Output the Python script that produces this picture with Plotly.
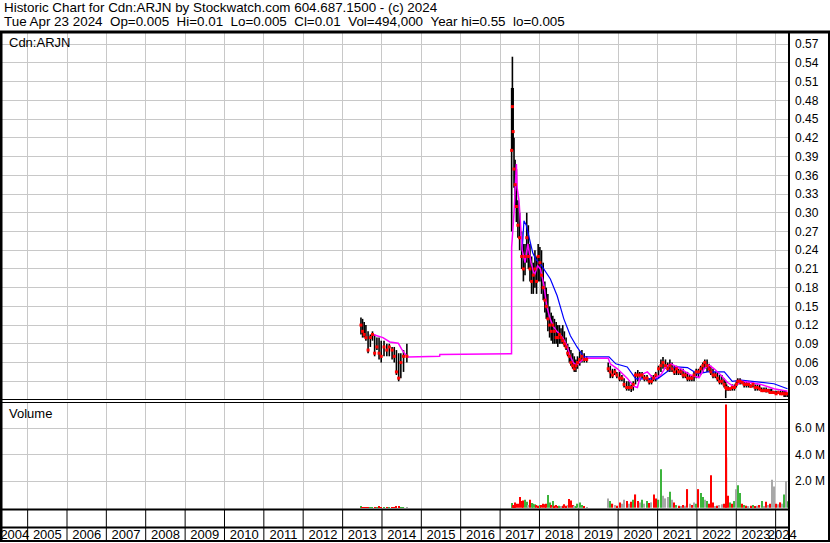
import pandas as pd
import plotly.graph_objects as go

# ---------------- data ----------------
# period 1 (2013-2014)
p1_dates = ["2013-06-20", "2013-07-05", "2013-07-20", "2013-08-05", "2013-08-25", "2013-09-15",
            "2013-10-05", "2013-10-25", "2013-11-15", "2013-12-05", "2013-12-25", "2014-01-20",
            "2014-02-15", "2014-03-10", "2014-04-05", "2014-04-25", "2014-05-15", "2014-06-05",
            "2014-06-25", "2014-07-20", "2014-08-20"]
p1_high = [.132, .130, .125, .120, .110, .105, .110, .105, .100, .100, .095, .095, .090, .090, .085,
           .085, .080, .075, .075, .080, .090]
p1_low = [.105, .100, .100, .095, .075, .085, .095, .070, .080, .065, .060, .070, .070, .070, .065,
          .060, .040, .030, .035, .045, .060]
p1_close = [.120, .110, .105, .100, .080, .100, .105, .075, .085, .075, .070, .085, .080, .085, .080,
            .070, .045, .035, .060, .070, .070]
p1_vol = [.06, .04, .05, .03, .04, .03, .05, .04, .03, .06, .04, .05, .03, .04, .03, .05, .06, .07,
          .05, .04, .03]
p1_move = "UDDDDUUDUDDUDUDDDDUUN"

# period 2 (2017-2019)
p2_dates = ["2017-04-18", "2017-04-25", "2017-05-02", "2017-05-10", "2017-05-20", "2017-06-01",
            "2017-06-15", "2017-07-01", "2017-07-20", "2017-08-05", "2017-08-20", "2017-09-05",
            "2017-09-20", "2017-10-05", "2017-10-20", "2017-11-05", "2017-11-20", "2017-12-05",
            "2017-12-20", "2018-01-05", "2018-01-20", "2018-02-05", "2018-02-20", "2018-03-05",
            "2018-03-20", "2018-04-05", "2018-04-20", "2018-05-05", "2018-05-20", "2018-06-05",
            "2018-06-20", "2018-07-05", "2018-07-20", "2018-08-05", "2018-08-20", "2018-09-05",
            "2018-09-20", "2018-10-05", "2018-10-20", "2018-11-05", "2018-11-20", "2018-12-05",
            "2018-12-20", "2019-01-10", "2019-01-30", "2019-02-20", "2019-03-15"]
p2_high = [.500, .550, .500, .420, .385, .370, .320, .300, .270, .250,
           .250, .300, .280, .250, .230, .220, .240, .230, .250, .245,
           .240, .220, .190, .180, .170, .150, .140, .135, .130, .125,
           .120, .120, .115, .120, .110, .100, .090, .085, .080, .075,
           .070, .065, .070, .078, .080, .075, .070]
p2_low = [.270, .400, .400, .340, .310, .285, .260, .240, .210, .190,
          .200, .220, .210, .190, .170, .170, .180, .170, .190, .190,
          .170, .160, .140, .130, .110, .100, .095, .090, .090, .090,
          .085, .090, .090, .090, .085, .080, .070, .060, .055, .050,
          .045, .045, .050, .055, .060, .060, .060]
p2_close = [.400, .470, .430, .370, .345, .310, .280, .260, .230, .210,
            .230, .260, .230, .210, .190, .200, .210, .190, .230, .220,
            .200, .180, .160, .150, .130, .120, .110, .120, .110, .100,
            .100, .105, .100, .095, .090, .085, .075, .070, .060, .055,
            .050, .055, .060, .065, .070, .065, .065]
p2_vol = [.35, .25, .20, .15, .40, .30, .30, .80, .50, .55,
          .60, .45, .20, .60, .35, .30, .25, .20, .15, .20,
          .20, .30, .25, .30, .95, .40, .20, .50, .15, .20,
          .10, .15, .10, .15, .25, .15, .20, .65, .55, .20,
          .15, .10, .30, .40, .20, .06, .05]
p2_move = "UUDDDDDDDDUUNDUUUDDUDDDDUUDUDDDUNDDDNDDDNUUUUDN"

# period 3 (2019-2024)
p3_dates = ["2019-10-01", "2019-10-20", "2019-11-10", "2019-12-01", "2019-12-20", "2020-01-15",
            "2020-02-05", "2020-02-25", "2020-03-20", "2020-04-10", "2020-05-01", "2020-05-20",
            "2020-06-10", "2020-07-01", "2020-07-20", "2020-08-10", "2020-09-01", "2020-09-25",
            "2020-10-15", "2020-11-05", "2020-11-25", "2020-12-15", "2021-01-10", "2021-02-01",
            "2021-02-20", "2021-03-15", "2021-04-05", "2021-04-25", "2021-05-15", "2021-06-05",
            "2021-06-25", "2021-07-15", "2021-08-05", "2021-08-25", "2021-09-15", "2021-10-05",
            "2021-10-25", "2021-11-15", "2021-12-05", "2021-12-25", "2022-01-15", "2022-02-05",
            "2022-02-25", "2022-03-15", "2022-04-05", "2022-04-25", "2022-05-10", "2022-05-30",
            "2022-06-20", "2022-07-10", "2022-07-30", "2022-08-20", "2022-09-10", "2022-09-25",
            "2022-10-03", "2022-10-18", "2022-11-05", "2022-11-25", "2022-12-15", "2023-01-01",
            "2023-01-15", "2023-02-05", "2023-02-25", "2023-03-15", "2023-04-05", "2023-04-25",
            "2023-05-15", "2023-06-05", "2023-06-25", "2023-07-15", "2023-08-05", "2023-08-25",
            "2023-09-15", "2023-10-05", "2023-10-25", "2023-11-10", "2023-11-25", "2023-12-15",
            "2024-01-05", "2024-01-25", "2024-02-15", "2024-03-05", "2024-03-20", "2024-04-05",
            "2024-04-23"]
p3_high = [.060, .055, .050, .050, .045, .045, .040, .035, .030, .030,
           .025, .030, .045, .048, .045, .045, .040, .040, .035, .040,
           .040, .045, .055, .065, .069, .065, .060, .065, .060, .055,
           .055, .050, .050, .050, .045, .045, .040, .040, .045, .050,
           .050, .055, .060, .065, .065, .058, .055, .050, .045, .045,
           .040, .040, .035, .030, .025, .022, .020, .025, .025, .030,
           .035, .035, .030, .030, .030, .030, .025, .028, .025, .025,
           .025, .020, .020, .020, .018, .018, .018, .015, .015, .015,
           .015, .015, .015, .015, .010]
p3_low = [.045, .035, .035, .040, .035, .030, .030, .020, .015, .015,
          .013, .015, .025, .030, .030, .035, .030, .030, .025, .025,
          .030, .030, .035, .045, .050, .050, .045, .045, .045, .040,
          .040, .040, .040, .035, .035, .030, .030, .030, .030, .035,
          .035, .040, .045, .050, .045, .045, .040, .035, .035, .030,
          .025, .025, .020, .003, .015, .015, .015, .015, .015, .020,
          .025, .025, .025, .020, .020, .020, .020, .020, .015, .015,
          .015, .015, .015, .012, .012, .010, .010, .010, .010, .010,
          .010, .008, .005, .005, .005]
p3_close = [.050, .045, .040, .045, .040, .035, .035, .025, .020, .020,
            .020, .025, .040, .040, .040, .040, .035, .035, .030, .030,
            .035, .040, .050, .055, .060, .055, .050, .055, .050, .045,
            .050, .045, .045, .040, .040, .035, .035, .035, .040, .045,
            .045, .050, .055, .060, .055, .050, .045, .040, .040, .035,
            .030, .030, .025, .020, .018, .018, .018, .020, .020, .025,
            .030, .030, .028, .025, .025, .025, .022, .025, .020, .020,
            .018, .015, .015, .015, .015, .012, .012, .012, .010, .012,
            .010, .010, .010, .010, .010]
p3_vol = [.70, .50, .30, .20, .15, .40, .30, .60, .50, .30,
          .45, .60, 1.00, .50, .40, .60, .30, .50, .35, .40,
          1.00, .70, .60, 2.90, .90, .70, .80, 1.20, .60, .40,
          .20, .15, .10, .20, .15, 1.40, .30, .20, .40, .30,
          1.40, 1.10, .80, .60, .50, .30, 2.45, .40, .10, .15,
          .20, .25, .30, 7.80, 3.80, .90, .40, .30, .50, 1.40,
          1.70, 1.10, .30, .20, .15, .10, .15, .20, .10, .15,
          .20, .50, .10, .45, .20, .30, 2.10, 1.60, .30, .25,
          .40, .30, 1.00, 2.00, .49]
p3_move = ("NUDNDDNNDN" "DUDDNUNUDN" "DDUUNNNUND" "UDNDNDNDNU" "DUUNUDDDND"
           "NNDDDDUDUN" "UUDUDNDUDN" "DUNDNDNNDN" "DNUNU")

# short moving average (magenta)
ma_short_dates = ["2013-10-10", "2014-01-10", "2014-03-15", "2014-06-01", "2014-07-01", "2014-08-01",
                  "2014-09-01", "2015-06-20", "2015-06-22", "2017-04-17", "2017-04-18", "2017-05-10",
                  "2017-06-01", "2017-06-08", "2017-06-25", "2017-07-05", "2017-07-25", "2017-08-20",
                  "2017-09-15", "2017-10-15", "2017-11-15", "2017-12-15", "2018-01-10", "2018-02-10",
                  "2018-03-10", "2018-04-10", "2018-05-10", "2018-06-10", "2018-07-10", "2018-08-10",
                  "2018-09-10", "2018-10-10", "2018-11-10", "2018-12-10", "2019-01-15", "2019-02-15",
                  "2019-03-20", "2019-10-01", "2019-10-20", "2019-12-25", "2020-03-25", "2020-05-25",
                  "2020-06-28", "2020-07-28", "2020-09-28", "2020-11-28", "2021-01-30", "2021-03-18",
                  "2021-05-05", "2021-08-05", "2021-11-03", "2022-01-22", "2022-03-08", "2022-04-22",
                  "2022-06-10", "2022-08-10", "2022-10-12", "2022-12-13", "2023-02-14", "2023-04-16",
                  "2023-08-18", "2023-12-16", "2024-04-20"]
ma_short = [.105, .100, .093, .091, .082, .074, .069, .070, .073, .074, .245, .300,
            .378, .340, .320, .295, .240, .220, .250, .220, .200, .215, .210, .185,
            .150, .130, .118, .110, .105, .098, .088, .072, .060, .056, .062, .066,
            .067, .067, .058, .050, .035, .022, .020, .040, .045, .034, .040, .053,
            .058, .050, .040, .036, .050, .056, .050, .040, .028, .021, .030, .029,
            .025, .018, .014]

# long moving average (blue)
ma_long_dates = ["2017-07-25", "2017-08-10", "2017-09-01", "2017-10-01", "2017-11-01", "2017-12-01",
                 "2018-01-10", "2018-04-12", "2018-06-14", "2018-08-15", "2018-10-15", "2018-12-15",
                 "2019-02-17", "2019-10-08", "2019-12-10", "2020-03-25", "2020-06-13", "2021-01-01",
                 "2021-05-05", "2021-07-01", "2021-10-05", "2022-01-05", "2022-04-10", "2022-09-12",
                 "2022-11-25", "2023-02-14", "2023-12-16", "2024-04-20"]
ma_long = [.240, .287, .280, .255, .235, .225, .218, .194, .167, .130, .103, .085,
           .069, .069, .058, .053, .034, .034, .050, .053, .052, .042, .045, .045,
           .030, .032, .026, .018]

price_ticks = [0.03, 0.06, 0.09, 0.12, 0.15, 0.18, 0.21, 0.24, 0.27, 0.30,
               0.33, 0.36, 0.39, 0.42, 0.45, 0.48, 0.51, 0.54, 0.57]
volume_ticks = [2.0, 4.0, 6.0]
years = list(range(2004, 2025))
x_start, x_end = "2004-05-08", "2024-05-04"

header_1 = "Historic Chart for Cdn:ARJN by Stockwatch.com 604.687.1500 - (c) 2024"
header_2 = ("Tue Apr 23 2024  Op=0.005  Hi=0.01  Lo=0.005  Cl=0.01  Vol=494,000  "
            "Year hi=0.55  lo=0.005")

# ---------------- build ----------------
dates = p1_dates + p2_dates + p3_dates
highs = p1_high + p2_high + p3_high
lows = p1_low + p2_low + p3_low
closes = p1_close + p2_close + p3_close
vols = p1_vol + p2_vol + p3_vol
moves = p1_move + p2_move + p3_move
assert len(dates) == len(highs) == len(lows) == len(closes) == len(vols) == len(moves)

FONT = "Liberation Sans, Arial, sans-serif"
GRID = "#c8c8c8"
move_color = {"U": "#3cb43c", "D": "#ff0000", "N": "#a8a8a8"}

W, H = 830, 543
ML, MR, MT, MB = 2, 41, 33, 34
PW, PH = W - ML - MR, H - MT - MB


def px(x):
    return (x - ML) / PW


def py(y):
    return (H - MB - y) / PH


fig = go.Figure()

bx, by = [], []
for d, hi, lo in zip(dates, highs, lows):
    bx += [d, d, None]
    by += [lo, hi, None]
fig.add_trace(go.Scatter(x=bx, y=by, mode="lines", line=dict(color="black", width=1.6),
                         xaxis="x", yaxis="y", hoverinfo="skip"))
fig.add_trace(go.Scatter(x=ma_long_dates, y=ma_long, mode="lines",
                         line=dict(color="#0000ff", width=1.2), xaxis="x", yaxis="y"))
fig.add_trace(go.Scatter(x=ma_short_dates, y=ma_short, mode="lines",
                         line=dict(color="#ff00ff", width=1.5), xaxis="x", yaxis="y"))
fig.add_trace(go.Scatter(x=dates, y=closes, mode="markers",
                         marker=dict(symbol="square", size=3, color="#ff0000", line=dict(width=0)),
                         xaxis="x", yaxis="y"))
fig.add_trace(go.Bar(x=dates, y=[v * 1e6 for v in vols],
                     marker=dict(color=[move_color[m] for m in moves], line=dict(width=0)),
                     width=11 * 86400000, xaxis="x2", yaxis="y2"))
# empty helper trace so that the year-label axis gets drawn
fig.add_trace(go.Scatter(x=[x_start, x_end], y=[None, None], mode="lines", xaxis="x3", yaxis="y2",
                         hoverinfo="skip"))

# year label positions: middle of each visible year cell
t0, t1 = pd.Timestamp(x_start), pd.Timestamp(x_end)
mids = []
for yr in years:
    a = max(pd.Timestamp(f"{yr}-01-01"), t0)
    b = min(pd.Timestamp(f"{yr + 1}-01-01"), t1)
    mids.append((a + (b - a) / 2).strftime("%Y-%m-%d %H:%M"))

common_x = dict(type="date", range=[x_start, x_end], showgrid=True, gridcolor=GRID, gridwidth=1,
                tick0="2004-01-01", dtick="M12", showticklabels=False, ticks="",
                zeroline=False, showline=False, fixedrange=True, automargin=False)

tickfont = dict(family=FONT, size=12, color="black")

shapes = []


def hline(y, x0, x1, w):
    shapes.append(dict(type="line", xref="paper", yref="paper", x0=px(x0), x1=px(x1),
                       y0=py(y), y1=py(y), line=dict(color="black", width=w), layer="above"))


def vline(x, y0, y1, w):
    shapes.append(dict(type="line", xref="paper", yref="paper", x0=px(x), x1=px(x),
                       y0=py(y0), y1=py(y1), line=dict(color="black", width=w), layer="above"))


hline(32, 0, 830, 3)
hline(399.5, 0, 789, 1)
hline(402.5, 0, 789, 1)
hline(509.5, 0, 789, 2)
hline(527.5, 0, 789, 2)
hline(541, 0, 830, 2)
vline(1, 31, 542, 3)
vline(789, 31, 542, 2)
vline(829, 31, 542, 2)
for yr in years[1:]:
    shapes.append(dict(type="line", xref="x2", yref="paper", x0=f"{yr}-01-01", x1=f"{yr}-01-01",
                       y0=py(510), y1=py(541), line=dict(color="black", width=1), layer="above"))

hfont = dict(family=FONT, size=13.4, color="black")
annotations = [
    dict(text=header_1.replace("  ", "\u00a0\u00a0"), x=px(2), y=py(8), xref="paper", yref="paper",
         xanchor="left", yanchor="middle", showarrow=False, font=hfont),
    dict(text=header_2.replace("  ", "\u00a0\u00a0"), x=px(2), y=py(21.5), xref="paper", yref="paper",
         xanchor="left", yanchor="middle", showarrow=False, font=hfont),
    dict(text="Cdn:ARJN", x=px(7), y=py(42), xref="paper", yref="paper",
         xanchor="left", yanchor="middle", showarrow=False, font=dict(family=FONT, size=13, color="black")),
    dict(text="Volume", x=px(7), y=py(413), xref="paper", yref="paper",
         xanchor="left", yanchor="middle", showarrow=False, font=dict(family=FONT, size=13, color="black")),
]

fig.update_layout(
    width=W, height=H, margin=dict(l=ML, r=MR, t=MT, b=MB, pad=0, autoexpand=False),
    paper_bgcolor="white", plot_bgcolor="white", showlegend=False, hovermode=False,
    xaxis=dict(**common_x, anchor="y", domain=[0, 1]),
    xaxis2=dict(**common_x, anchor="y2", domain=[0, 1]),
    xaxis3=dict(type="date", range=[x_start, x_end], overlaying="x2", anchor="y2", side="bottom",
                tickmode="array", tickvals=mids, ticktext=[str(y) for y in years],
                showgrid=False, zeroline=False, showline=False, ticks="", tickangle=0,
                ticklabelstandoff=16, tickfont=dict(family=FONT, size=13, color="black"),
                fixedrange=True, automargin=False),
    yaxis=dict(domain=[py(400), 1], range=[0, 0.588], side="right", anchor="x",
               tickmode="array", tickvals=price_ticks, ticktext=[f"{v:.2f}" for v in price_ticks],
               showgrid=True, gridcolor=GRID, zeroline=False, showline=False, ticks="",
               ticklabelstandoff=5, tickfont=tickfont, fixedrange=True, automargin=False),
    yaxis2=dict(domain=[0, py(402)], range=[-0.1e6, 7.98e6], side="right", anchor="x2",
                tickmode="array", tickvals=[v * 1e6 for v in volume_ticks],
                ticktext=[f"{v:.1f} M" for v in volume_ticks],
                showgrid=True, gridcolor=GRID, zeroline=False, showline=False, ticks="",
                ticklabelstandoff=5, tickfont=tickfont, fixedrange=True, automargin=False),
    shapes=shapes, annotations=annotations,
)

fig.write_html("out.html", config={"displayModeBar": False},
               post_script="document.body.style.margin='0px';")
